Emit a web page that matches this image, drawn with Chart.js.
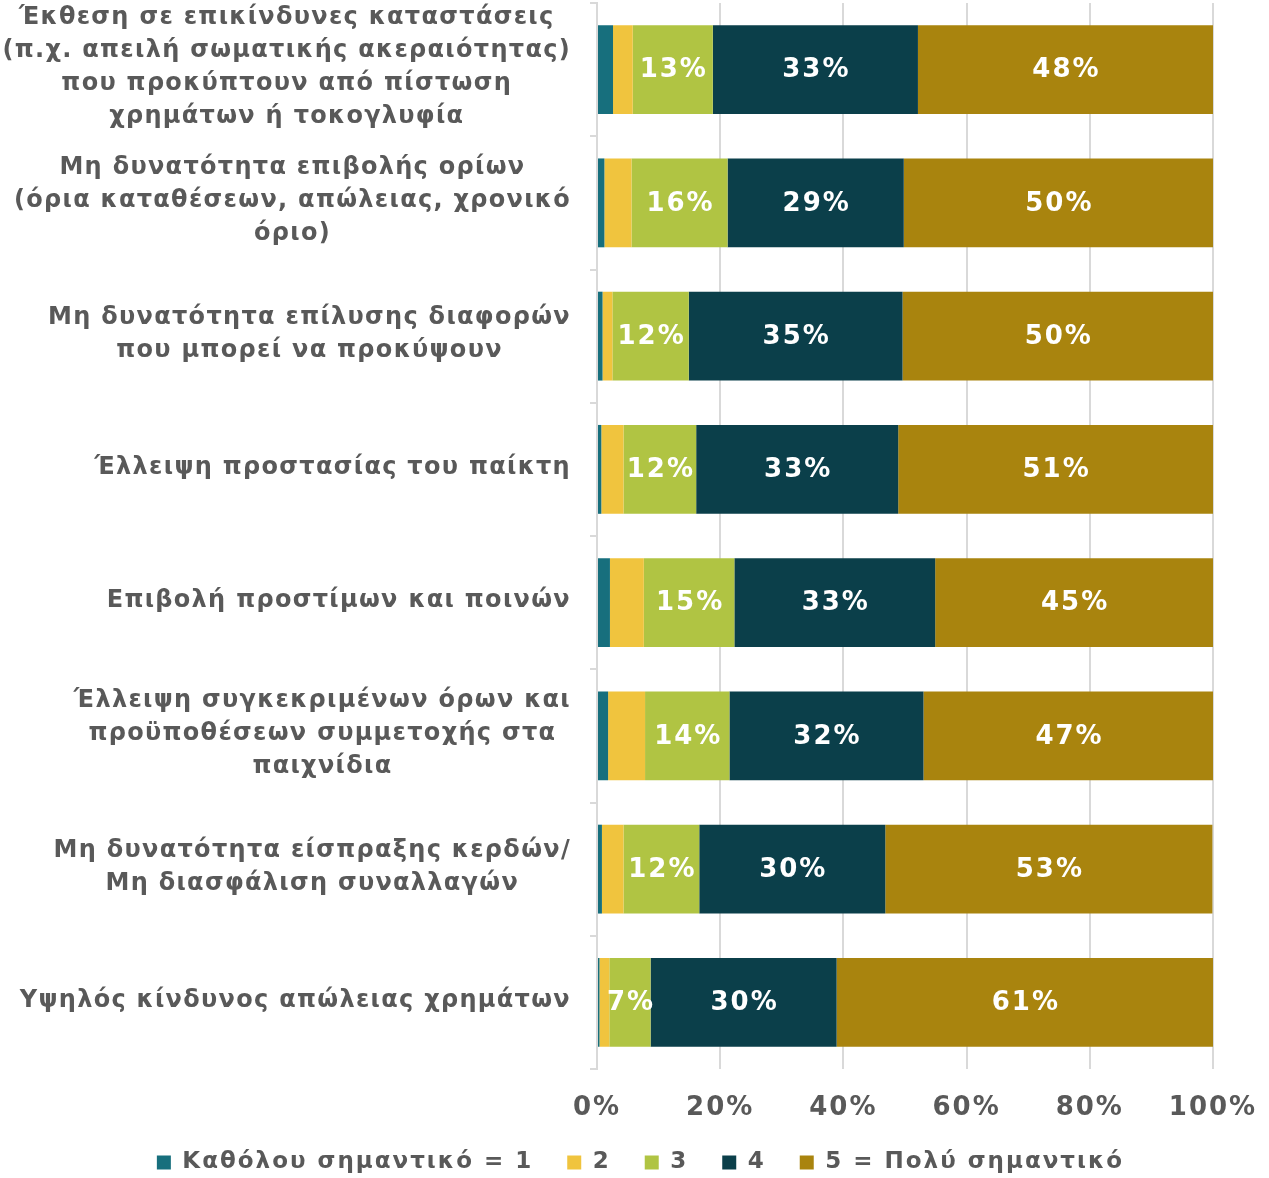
<!DOCTYPE html>
<html><head><meta charset="utf-8">
<script src="https://cdn.jsdelivr.net/npm/chart.js@4/dist/chart.umd.min.js"></script>
<style>html,body{margin:0;padding:0;background:#fff}#wrap{width:1269px;height:1178px;position:relative}</style>
</head><body><div id="wrap"><canvas id="c"></canvas></div>
<script>
const categories = [
  ["Έκθεση σε επικίνδυνες καταστάσεις","(π.χ. απειλή σωματικής ακεραιότητας)","που προκύπτουν από πίστωση","χρημάτων ή τοκογλυφία"],
  ["Μη δυνατότητα επιβολής ορίων","(όρια καταθέσεων, απώλειας, χρονικό","όριο)"],
  ["Μη δυνατότητα επίλυσης διαφορών","που μπορεί να προκύψουν"],
  ["Έλλειψη προστασίας του παίκτη"],
  ["Επιβολή προστίμων και ποινών"],
  ["Έλλειψη συγκεκριμένων όρων και","προϋποθέσεων συμμετοχής στα","παιχνίδια"],
  ["Μη δυνατότητα είσπραξης κερδών/","Μη διασφάλιση συναλλαγών"],
  ["Υψηλός κίνδυνος απώλειας χρημάτων"]
];
const seriesNames = ["Καθόλου σημαντικό = 1","2","3","4","5 = Πολύ σημαντικό"];
const s1 = [2.6, 1.2, 0.9, 0.7, 2.1, 1.8, 0.8, 0.4];
const s2 = [3.2, 4.4, 1.6, 3.6, 5.5, 6.0, 3.5, 1.6];
const s3 = [13.0, 15.6, 12.4, 11.8, 14.7, 13.7, 12.3, 6.7];
const s4 = [33.3, 28.6, 34.7, 32.8, 32.6, 31.5, 30.2, 30.2];
const s5 = [47.9, 50.2, 50.4, 51.1, 45.1, 47.1, 53.1, 61.1];
const xTicks = [0, 20, 40, 60, 80, 100];
const colors = ["#176F7D","#F0C43E","#B0C443","#0B3F4A","#A9840E"];

const FONT = "'DejaVu Sans', Verdana, sans-serif";
const GRAY = "#595959";

const spacing = {
  id: 'spacing',
  beforeLayout(chart) { chart.ctx.letterSpacing = '2px'; },
  beforeDraw(chart) { chart.ctx.letterSpacing = '2px'; }
};

const valueLabels = {
  id: 'valueLabels',
  afterDatasetsDraw(chart) {
    const ctx = chart.ctx;
    ctx.save();
    ctx.letterSpacing = '2px';
    ctx.font = "bold 26px " + FONT;
    ctx.fillStyle = "#ffffff";
    ctx.textAlign = "center";
    ctx.textBaseline = "middle";
    [2,3,4].forEach(di => {
      const meta = chart.getDatasetMeta(di);
      meta.data.forEach((bar, i) => {
        const v = chart.data.datasets[di].data[i];
        ctx.fillText(Math.round(v) + "%", (bar.x + bar.base) / 2 + 1, bar.y + 1);
      });
    });
    ctx.restore();
  }
};

const yLabels = {
  id: 'yLabels',
  afterDraw(chart) {
    const ctx = chart.ctx;
    const sc = chart.scales.y;
    ctx.save();
    ctx.letterSpacing = '1.3px';
    ctx.font = "bold 24px " + FONT;
    ctx.fillStyle = GRAY;
    ctx.textAlign = "center";
    ctx.textBaseline = "middle";
    const lh = 33;
    const right = sc.right - 26;
    categories.forEach((lines, i) => {
      const yc = sc.getPixelForTick(i);
      const w = Math.max(...lines.map(l => ctx.measureText(l).width));
      const cx = right - w / 2;
      const y0 = yc - (lines.length - 1) * lh / 2 - 2;
      lines.forEach((l, k) => ctx.fillText(l, cx, y0 + k * lh));
    });
    ctx.restore();
  }
};

new Chart(document.getElementById('c'), {
  type: 'bar',
  data: {
    labels: categories,
    datasets: [s1, s2, s3, s4, s5].map((d, i) => ({
      label: seriesNames[i],
      data: d,
      backgroundColor: colors[i],
      borderWidth: 0,
      barPercentage: 0.667,
      categoryPercentage: 1
    }))
  },
  options: {
    indexAxis: 'y',
    responsive: true,
    maintainAspectRatio: false,
    animation: false,
    layout: { padding: { top: 3, right: 0, left: 12, bottom: -6 } },
    scales: {
      x: {
        stacked: true,
        min: 0, max: 100,
        afterBuildTicks: (s) => { s.ticks = xTicks.map(v => ({ value: v })); },
        afterFit: (s) => { s.height = 48; s.paddingLeft = 0; s.paddingRight = 56; },
        grid: { color: "#d9d9d9", lineWidth: 2, drawTicks: false },
        border: { display: false },
        ticks: {
          callback: (v) => v + "%",
          color: GRAY,
          font: { family: FONT, size: 26, weight: 'bold' },
          padding: 24,
          maxRotation: 0
        }
      },
      y: {
        stacked: true,
        afterFit: (s) => { s.width = 585; },
        grid: { drawOnChartArea: false, drawTicks: true, tickLength: 7, color: "#d9d9d9", lineWidth: 2 },
        border: { display: true, color: "#d9d9d9", width: 2 },
        ticks: { display: false }
      }
    },
    plugins: {
      legend: {
        position: 'bottom',
        labels: {
          boxWidth: 14, boxHeight: 14,
          padding: 34,
          color: GRAY,
          font: { family: FONT, size: 23, weight: 'bold' }
        }
      },
      tooltip: { enabled: false }
    }
  },
  plugins: [spacing, valueLabels, yLabels]
});
</script>
</body></html>
